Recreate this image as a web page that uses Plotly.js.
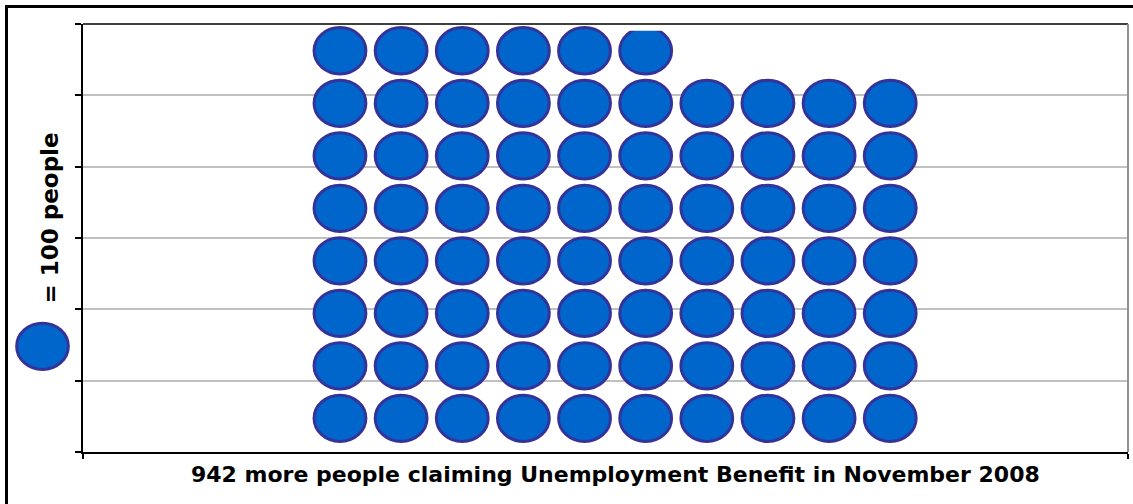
<!DOCTYPE html>
<html><head><meta charset="utf-8">
<script src="https://cdn.plot.ly/plotly-3.0.1.min.js"></script>
<style>html,body{margin:0;padding:0;background:#fff;}#chart{width:1133px;height:504px;}</style>
</head><body><div id="chart"></div>
<script>
// ---- data ----
const columnIds = [1, 2, 3, 4, 5, 6, 7, 8, 9, 10];
const circleStacks = [8, 8, 8, 8, 8, 7.88, 7, 7, 7, 7];   // circles per column (col 6 top one cut)
const yGridValues = [0, 1, 2, 3, 4, 5, 6];
const xTitleText = '942 more people claiming Unemployment Benefit in November 2008';
const keyText = '= 100 people';

// ---- layout geometry ----
const W = 1133, H = 504;
const M = {l: 83, r: 5, t: 24, b: 52};
const pw = W - M.l - M.r, ph = H - M.t - M.b;
const xRange = [-3.203, 13.889];
const y2Range = [-0.142, 8.010];
const rx = 0.424, ry = 0.441;          // ellipse half-size in data units
const fillCol = '#0066CC', edgeCol = '#333399';
const px2paperX = p => (p - M.l) / pw;
const px2paperY = p => (H - M.b - p) / ph;

const shapes = [];
const cx = [], cy = [];
columnIds.forEach((c, i) => {
  const h = circleStacks[i];
  const n = Math.ceil(h);
  for (let k = 0; k < n; k++) {
    const yc = k + 0.5;
    cx.push(c); cy.push(yc);
    shapes.push({type: 'circle', xref: 'x', yref: 'y2',
      x0: c - rx, x1: c + rx, y0: yc - ry, y1: yc + ry,
      fillcolor: fillCol, line: {color: edgeCol, width: 3}, layer: 'above'});
  }
  if (h < n) {
    shapes.push({type: 'rect', xref: 'x', yref: 'y2',
      x0: c - 0.5, x1: c + 0.5, y0: h, y1: 7.985,
      fillcolor: '#ffffff', line: {width: 0}, layer: 'above'});
  }
});

// plot-area border (top / right)
shapes.push({type: 'line', xref: 'paper', yref: 'paper', x0: 0, x1: 1, y0: 1, y1: 1,
  line: {color: '#404040', width: 2}, layer: 'above'});
shapes.push({type: 'line', xref: 'paper', yref: 'paper', x0: 1, x1: 1, y0: 0, y1: 1,
  line: {color: '#909090', width: 2}, layer: 'above'});
// outer chart frame
shapes.push({type: 'rect', xref: 'paper', yref: 'paper',
  x0: px2paperX(6.5), x1: px2paperX(1145), y0: px2paperY(515), y1: px2paperY(6.5),
  line: {color: '#000000', width: 3}, fillcolor: 'rgba(0,0,0,0)', layer: 'above'});
// key ellipse
const kx = 42.5, ky = 346.3, krx = 25.85, kry = 23.15;
shapes.push({type: 'circle', xref: 'paper', yref: 'paper',
  x0: px2paperX(kx - krx), x1: px2paperX(kx + krx), y0: px2paperY(ky + kry), y1: px2paperY(ky - kry),
  fillcolor: fillCol, line: {color: edgeCol, width: 3}, layer: 'above'});

const data = [
  {type: 'scatter', mode: 'markers', x: columnIds, y: yGridValues.map(() => null).slice(0, columnIds.length).map((v, i) => 0),
    xaxis: 'x', yaxis: 'y', marker: {size: 1, opacity: 0}, hoverinfo: 'skip', showlegend: false},
  {type: 'scatter', mode: 'markers', x: cx, y: cy, xaxis: 'x', yaxis: 'y2',
    marker: {size: 1, opacity: 0}, hoverinfo: 'skip', showlegend: false}
];

const font = {family: 'DejaVu Sans, Verdana, sans-serif', color: '#000000'};

const layout = {
  width: W, height: H,
  margin: M,
  paper_bgcolor: '#ffffff', plot_bgcolor: '#ffffff',
  showlegend: false,
  font: font,
  xaxis: {range: xRange, showgrid: false, zeroline: false,
    showline: true, linecolor: '#000000', linewidth: 2,
    tickmode: 'array', tickvals: xRange, ticks: 'outside', ticklen: 5, tickwidth: 2, tickcolor: '#000000',
    showticklabels: false, fixedrange: true},
  yaxis: {range: [0, 6], tickmode: 'array', tickvals: yGridValues,
    showgrid: true, gridcolor: '#c0c0c0', gridwidth: 2, zeroline: false,
    showline: true, linecolor: '#000000', linewidth: 2,
    ticks: 'outside', ticklen: 6, tickwidth: 2, tickcolor: '#000000',
    showticklabels: false, fixedrange: true},
  yaxis2: {range: y2Range, overlaying: 'y', visible: false, fixedrange: true},
  shapes: shapes,
  annotations: [
    {text: '<b>' + xTitleText + '</b>', xref: 'paper', yref: 'paper',
      x: px2paperX(615), y: px2paperY(474), xanchor: 'center', yanchor: 'middle',
      showarrow: false, font: {family: font.family, size: 22, color: '#000'}},
    {text: '<b>' + keyText + '</b>', xref: 'paper', yref: 'paper', textangle: -90,
      x: px2paperX(50), y: px2paperY(218.5), xanchor: 'center', yanchor: 'middle',
      showarrow: false, font: {family: font.family, size: 23, color: '#000'}}
  ]
};

Plotly.newPlot('chart', data, layout, {displayModeBar: false, staticPlot: true});
</script>
</body></html>
